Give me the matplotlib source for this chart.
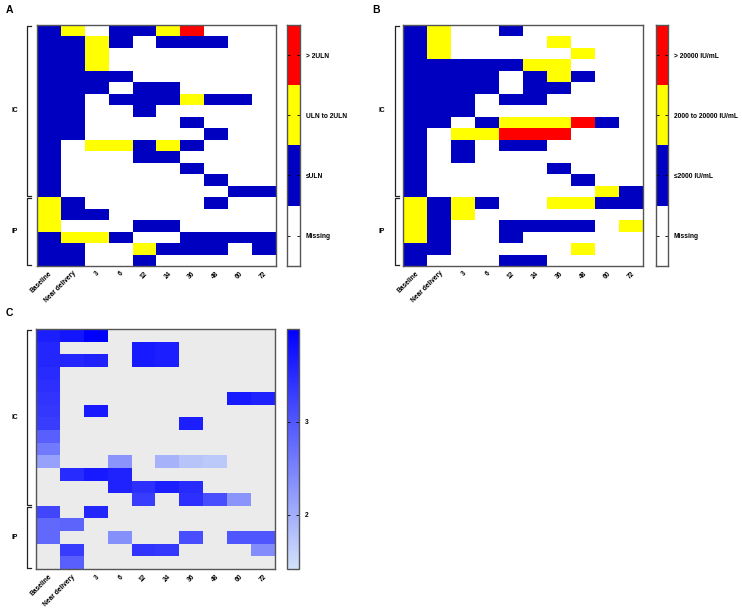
import numpy as np
import matplotlib
matplotlib.use("Agg")
import matplotlib.pyplot as plt
from matplotlib.colors import ListedColormap, BoundaryNorm, LinearSegmentedColormap
import matplotlib.transforms as mtransforms

plt.rcParams['font.family'] = ['Liberation Sans', 'DejaVu Sans']

timepoints = ["Baseline", "Near delivery", "3", "6", "12", "24", "36", "48", "60", "72"]

# Panel A: ALT category (0 Missing, 1 <=ULN, 2 ULN to 2ULN, 3 >2ULN)
alt_cat = [
    [1, 2, 0, 1, 1, 2, 3, 0, 0, 0],
    [1, 1, 2, 1, 0, 1, 1, 1, 0, 0],
    [1, 1, 2, 0, 0, 0, 0, 0, 0, 0],
    [1, 1, 2, 0, 0, 0, 0, 0, 0, 0],
    [1, 1, 1, 1, 0, 0, 0, 0, 0, 0],
    [1, 1, 1, 0, 1, 1, 0, 0, 0, 0],
    [1, 1, 0, 1, 1, 1, 2, 1, 1, 0],
    [1, 1, 0, 0, 1, 0, 0, 0, 0, 0],
    [1, 1, 0, 0, 0, 0, 1, 0, 0, 0],
    [1, 1, 0, 0, 0, 0, 0, 1, 0, 0],
    [1, 0, 2, 2, 1, 2, 1, 0, 0, 0],
    [1, 0, 0, 0, 1, 1, 0, 0, 0, 0],
    [1, 0, 0, 0, 0, 0, 1, 0, 0, 0],
    [1, 0, 0, 0, 0, 0, 0, 1, 0, 0],
    [1, 0, 0, 0, 0, 0, 0, 0, 1, 1],
    [2, 1, 0, 0, 0, 0, 0, 1, 0, 0],
    [2, 1, 1, 0, 0, 0, 0, 0, 0, 0],
    [2, 0, 0, 0, 1, 1, 0, 0, 0, 0],
    [1, 2, 2, 1, 0, 0, 1, 1, 1, 1],
    [1, 1, 0, 0, 2, 1, 1, 1, 0, 1],
    [1, 1, 0, 0, 1, 0, 0, 0, 0, 0],
]
alt_labels = ["Missing", "\u2264ULN", "ULN to 2ULN", "> 2ULN"]
alt_groups = [("IC", 15), ("IP", 6)]

# Panel B: HBV DNA category (0 Missing, 1 <=2000, 2 2000-20000, 3 >20000)
dna_cat = [
    [1, 2, 0, 0, 1, 0, 0, 0, 0, 0],
    [1, 2, 0, 0, 0, 0, 2, 0, 0, 0],
    [1, 2, 0, 0, 0, 0, 0, 2, 0, 0],
    [1, 1, 1, 1, 1, 2, 2, 0, 0, 0],
    [1, 1, 1, 1, 0, 1, 2, 1, 0, 0],
    [1, 1, 1, 1, 0, 1, 1, 0, 0, 0],
    [1, 1, 1, 0, 1, 1, 0, 0, 0, 0],
    [1, 1, 1, 0, 0, 0, 0, 0, 0, 0],
    [1, 1, 0, 1, 2, 2, 2, 3, 1, 0],
    [1, 0, 2, 2, 3, 3, 3, 0, 0, 0],
    [1, 0, 1, 0, 1, 1, 0, 0, 0, 0],
    [1, 0, 1, 0, 0, 0, 0, 0, 0, 0],
    [1, 0, 0, 0, 0, 0, 1, 0, 0, 0],
    [1, 0, 0, 0, 0, 0, 0, 1, 0, 0],
    [1, 0, 0, 0, 0, 0, 0, 0, 2, 1],
    [2, 1, 2, 1, 0, 0, 2, 2, 1, 1],
    [2, 1, 2, 0, 0, 0, 0, 0, 0, 0],
    [2, 1, 0, 0, 1, 1, 1, 1, 0, 2],
    [2, 1, 0, 0, 1, 0, 0, 0, 0, 0],
    [1, 1, 0, 0, 0, 0, 0, 2, 0, 0],
    [1, 0, 0, 0, 1, 1, 0, 0, 0, 0],
]
dna_labels = ["Missing", "\u22642000 IU/mL", "2000 to 20000 IU/mL", "> 20000 IU/mL"]
dna_groups = [("IC", 15), ("IP", 6)]

# Panel C: continuous values (None = missing)
N = None
cont_vals = [
    [3.65, 3.75, 4.0, N, N, N, N, N, N, N],
    [3.55, N, N, N, 3.7, 3.65, N, N, N, N],
    [3.55, 3.55, 3.6, N, 3.7, 3.65, N, N, N, N],
    [3.5, N, N, N, N, N, N, N, N, N],
    [3.45, N, N, N, N, N, N, N, N, N],
    [3.4, N, N, N, N, N, N, N, 3.7, 3.6],
    [3.35, N, 3.7, N, N, N, N, N, N, N],
    [3.3, N, N, N, N, N, 3.65, N, N, N],
    [2.9, N, N, N, N, N, N, N, N, N],
    [2.6, N, N, N, N, N, N, N, N, N],
    [2.15, N, N, 2.3, N, 1.95, 1.75, 1.7, N, N],
    [N, 3.5, 3.7, 3.6, N, N, N, N, N, N],
    [N, N, N, 3.6, 3.45, 3.65, 3.5, N, N, N],
    [N, N, N, N, 3.3, N, 3.45, 3.1, 2.3, N],
    [3.2, N, 3.55, N, N, N, N, N, N, N],
    [2.8, 2.85, N, N, N, N, N, N, N, N],
    [2.8, N, N, 2.35, N, N, 3.1, N, 3.0, 3.0],
    [N, 3.3, N, N, 3.4, 3.35, N, N, N, 2.4],
    [N, 2.9, N, N, N, N, N, N, N, N],
]
cont_groups = [("IC", 14), ("IP", 5)]
cont_range = (1.41, 4.0)
cont_ticks = [2, 3]

W, H = 742, 613
fig = plt.figure(figsize=(W / 100, H / 100), dpi=100)


def fr(x0, y0, x1, y1):
    return [x0 / W, 1 - y1 / H, (x1 - x0) / W, (y1 - y0) / H]


FS = 4.8
frame_col = '#555555'


def style_heat(ax, nrows, groups, bracket_px):
    ax.set_xticks(np.arange(len(timepoints)))
    ax.set_xticklabels(timepoints, rotation=45, ha='right', rotation_mode='anchor',
                       fontsize=FS, fontweight='bold')
    ax.tick_params(axis='x', length=0, pad=3)
    ax.set_yticks([])
    for s in ax.spines.values():
        s.set_color(frame_col)
        s.set_linewidth(1.0)
    trans = mtransforms.blended_transform_factory(ax.transAxes, ax.transData)
    axw = ax.get_position().width * W
    bx = -bracket_px / axw
    tx = bx + 4 / axw
    lx = bx - 16 / axw
    start = -0.5
    for i, (name, n) in enumerate(groups):
        y0 = start + 0.08
        y1 = start + n - 0.08
        ax.plot([tx, bx, bx, tx], [y0, y0, y1, y1], color='#222222', lw=0.9,
                transform=trans, clip_on=False)
        ax.text(lx, start + n / 2, name, transform=trans, ha='left', va='center',
                fontsize=FS, fontweight='bold')
        start += n


def style_cbar(cax):
    for s in cax.spines.values():
        s.set_color(frame_col)
        s.set_linewidth(1.0)
    cax.yaxis.set_ticks_position('both')
    cax.yaxis.set_label_position('right')
    cax.tick_params(axis='y', direction='in', length=2, width=0.6, labelsize=FS,
                    labelright=True, labelleft=False, pad=4)
    for t in cax.get_yticklabels():
        t.set_fontweight('bold')
    cax.set_xticks([])


cat_cmap = ListedColormap(['#ffffff', '#0000c0', '#ffff00', '#ff0000'])
cat_norm = BoundaryNorm([-0.5, 0.5, 1.5, 2.5, 3.5], 4)


def cat_panel(ax_rect, cax_rect, data, labels, groups, letter, letter_xy, bracket_px):
    ax = fig.add_axes(ax_rect)
    arr = np.array(data)
    ax.imshow(arr, cmap=cat_cmap, norm=cat_norm, aspect='auto', interpolation='nearest')
    style_heat(ax, arr.shape[0], groups, bracket_px)
    cax = fig.add_axes(cax_rect)
    cax.imshow(np.arange(4)[::-1].reshape(-1, 1), cmap=cat_cmap, norm=cat_norm,
               aspect='auto', extent=[0, 1, -0.5, 3.5])
    cax.set_ylim(-0.5, 3.5)
    cax.set_yticks([0, 1, 2, 3])
    cax.set_yticklabels(labels)
    style_cbar(cax)
    fig.text(letter_xy[0] / W, 1 - letter_xy[1] / H, letter, fontsize=7.5,
             fontweight='bold', ha='left', va='center')


cat_panel(fr(36.7, 25, 275.7, 265.7), fr(287.3, 25, 300.0, 265.7), alt_cat, alt_labels,
          alt_groups, "A", (6, 10), 9.4)
cat_panel(fr(403.3, 25, 643.3, 265.7), fr(655.7, 25, 668.0, 265.7), dna_cat, dna_labels,
          dna_groups, "B", (372, 10), 8.5)

# Panel C
cmapC = LinearSegmentedColormap.from_list('bl', ['#d2e2fa', '#0000ff'])
cmapC.set_bad('#ebebeb')
axC = fig.add_axes(fr(36.0, 329.3, 275.0, 569.3))
vals = np.array([[np.nan if v is None else v for v in row] for row in cont_vals], dtype=float)
im = axC.imshow(np.ma.masked_invalid(vals), cmap=cmapC, vmin=cont_range[0], vmax=cont_range[1],
                aspect='auto', interpolation='nearest')
style_heat(axC, vals.shape[0], cont_groups, 9.0)
caxC = fig.add_axes(fr(286.7, 329.3, 299.0, 569.3))
cb = fig.colorbar(im, cax=caxC)
cb.set_ticks(cont_ticks)
cb.outline.set_edgecolor(frame_col)
style_cbar(caxC)
fig.text(6 / W, 1 - 313 / H, "C", fontsize=7.5, fontweight='bold', ha='left', va='center')

fig.savefig("out.png", dpi=100)
